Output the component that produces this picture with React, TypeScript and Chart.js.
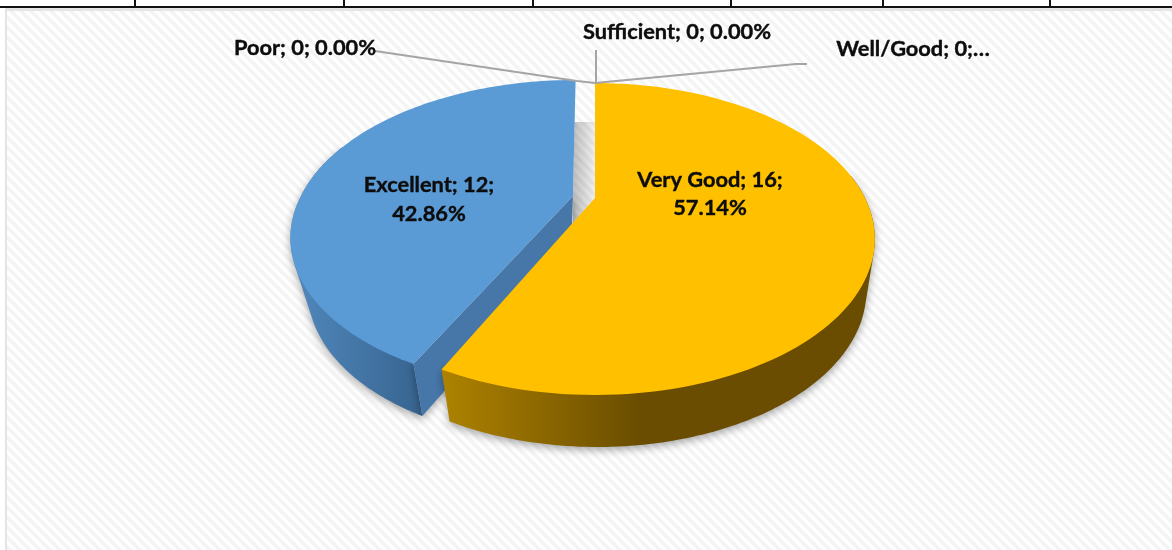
import React, { useEffect, useRef } from "react";
import { Chart, registerables } from "chart.js";

Chart.register(...registerables);

const categories = ["Very Good", "Excellent", "Poor", "Sufficient", "Well/Good"];
const counts = [16, 12, 0, 0, 0];
const sliceColors = ["#FFC000", "#5B9BD5", "#A5A5A5", "#ED7D31", "#4472C4"];
const tableTicks = [135, 344, 533, 731, 883, 1050];

const GOLD = { ax: 595, ay: 198, rx: 270, ry: 145.2, k: -0.2628, skewUp: 0, skewDown: 0, wallS: 0.9617, wallT: 25 };
const BLUE = { ax: 573, ay: 196, rx: 272, ry: 144.8, k: -0.248, skewUp: -0.0224, skewDown: -0.045, wallS: 0.932, wallT: 37 };
const WALL_DEPTH = 52;
const FONT = "bold 21.8px Lato, 'Open Sans', sans-serif";

type Proj = typeof GOLD;
type Pt = [number, number];
const project = (t: number, p: Proj): Pt => {
  const x = Math.sin(t), y = -Math.cos(t), w = 1 + p.k * y;
  const dy = (p.ry * y) / w;
  return [p.ax + (p.rx * x) / w + (dy < 0 ? p.skewUp : p.skewDown) * dy, p.ay + dy];
};
const lower = (pt: Pt, p: Proj): Pt => [pt[0] * p.wallS + p.wallT, pt[1] + WALL_DEPTH];
const arcPoints = (a: number, b: number, p: Proj) => {
  const pts: Pt[] = [];
  const n = 120;
  for (let i = 0; i <= n; i++) pts.push(project(a + ((b - a) * i) / n, p));
  return pts;
};
const hull = (input: Pt[]) => {
  const pts = [...input].sort((a, b) => a[0] - b[0] || a[1] - b[1]);
  const cross = (o: Pt, a: Pt, b: Pt) => (a[0] - o[0]) * (b[1] - o[1]) - (a[1] - o[1]) * (b[0] - o[0]);
  const half = (list: Pt[]) => {
    const out: Pt[] = [];
    for (const q of list) {
      while (out.length >= 2 && cross(out[out.length - 2], out[out.length - 1], q) <= 0) out.pop();
      out.push(q);
    }
    out.pop();
    return out;
  };
  return [...half(pts), ...half([...pts].reverse())];
};
const fillPoly = (ctx: CanvasRenderingContext2D, pts: Pt[], fill: any) => {
  ctx.beginPath();
  pts.forEach((q, i) => (i ? ctx.lineTo(q[0], q[1]) : ctx.moveTo(q[0], q[1])));
  ctx.closePath();
  ctx.fillStyle = fill;
  ctx.fill();
};
const hGrad = (ctx: CanvasRenderingContext2D, x0: number, x1: number, stops: [number, string][]) => {
  const g = ctx.createLinearGradient(x0, 0, x1, 0);
  stops.forEach(([o, c]) => g.addColorStop(o, c));
  return g;
};

const backdrop = {
  id: "backdrop",
  beforeDraw(chart: any) {
    const { ctx, width, height } = chart;
    ctx.save();
    ctx.fillStyle = "#ffffff";
    ctx.fillRect(0, 0, width, height);
    const tile = document.createElement("canvas");
    tile.width = 10;
    tile.height = 10;
    const t = tile.getContext("2d")!;
    t.fillStyle = "#ffffff";
    t.fillRect(0, 0, 10, 10);
    t.strokeStyle = "#f4f4f4";
    t.lineWidth = 3.6;
    [-10, 0, 10].forEach((o) => {
      t.beginPath();
      t.moveTo(o - 2, -2);
      t.lineTo(o + 12, 12);
      t.stroke();
    });
    ctx.fillStyle = ctx.createPattern(tile, "repeat");
    ctx.fillRect(7, 11, width - 7, height - 11);
    ctx.fillStyle = "#e4e4e4";
    ctx.fillRect(5, 8, width - 5, 3);
    ctx.fillRect(5, 8, 2, height - 8);
    ctx.fillStyle = "#111111";
    ctx.fillRect(0, 6, width, 2);
    tableTicks.forEach((x) => ctx.fillRect(x - 1, 0, 2, 7));
    ctx.restore();
  },
};

const pie3d = {
  id: "pie3d",
  beforeDatasetDraw(chart: any) {
    const { ctx } = chart;
    const arcs = chart.getDatasetMeta(0).data;
    const off = Math.PI / 2;
    const gold = arcs[0], blue = arcs[1];
    const g0 = gold.startAngle + off, g1 = gold.endAngle + off;
    const b0 = blue.startAngle + off, b1 = blue.endAngle + off;

    ctx.save();
    // shadow in the gap between the slices
    const gap = ctx.createLinearGradient(574, 0, 595, 0);
    gap.addColorStop(0, "rgba(0,0,0,0.24)");
    gap.addColorStop(1, "rgba(0,0,0,0.06)");
    fillPoly(ctx, [[574.5, 122], [595, 122], [595, 198], [573, 224], [573, 196]], gap);

    // excellent: outer wall
    ctx.shadowColor = "rgba(0,0,0,0.35)";
    ctx.shadowBlur = 8;
    ctx.shadowOffsetY = 3;
    const bTop = arcPoints(b0, Math.PI * 1.62, BLUE);
    fillPoly(ctx, hull([...bTop, ...bTop.map((q) => lower(q, BLUE))]),
      hGrad(ctx, 295, 423, [[0, "#5087BC"], [1, "#37648F"]]));
    // excellent: cut wall
    const corner = project(b0, BLUE);
    const apex: Pt = [BLUE.ax, BLUE.ay];
    fillPoly(ctx, [apex, corner, lower(corner, BLUE), lower(apex, BLUE)], "#4677A8");
    ctx.shadowColor = "transparent";
    // excellent: top
    fillPoly(ctx, [apex, ...arcPoints(b0, b1, BLUE)], sliceColors[1]);

    // very good: outer wall
    ctx.shadowColor = "rgba(0,0,0,0.35)";
    ctx.shadowBlur = 8;
    ctx.shadowOffsetY = 3;
    const gTop = arcPoints(Math.PI * 0.45, g1, GOLD);
    fillPoly(ctx, hull([...gTop, ...gTop.map((q) => lower(q, GOLD))]),
      hGrad(ctx, 444, 640, [[0, "#AD8200"], [1, "#6A4D00"]]));
    ctx.shadowColor = "transparent";
    // very good: top
    fillPoly(ctx, [[GOLD.ax, GOLD.ay], ...arcPoints(g0, g1, GOLD)], sliceColors[0]);
    ctx.restore();
    return false;
  },
  afterDraw(chart: any) {
    const { ctx } = chart;
    const arcs = chart.getDatasetMeta(0).data;
    const total = counts.reduce((a, b) => a + b, 0);
    const pct = (i: number) => ((counts[i] / total) * 100).toFixed(2) + "%";
    const text = (i: number) => `${categories[i]}; ${counts[i]}; ${pct(i)}`;
    const tip = project(arcs[2].endAngle + Math.PI / 2, GOLD);

    ctx.save();
    ctx.strokeStyle = "#A5A5A5";
    ctx.lineWidth = 2;
    const line = (pts: Pt[]) => {
      ctx.beginPath();
      pts.forEach((q, i) => (i ? ctx.lineTo(q[0], q[1]) : ctx.moveTo(q[0], q[1])));
      ctx.stroke();
    };
    line([[375, 51], [577, 81], tip]);
    line([[596, 50], [596, tip[1]]]);
    line([[807, 64], [796, 64], tip]);

    ctx.font = FONT;
    ctx.fillStyle = "#0d0d0d";
    ctx.strokeStyle = "#0d0d0d";
    ctx.lineWidth = 0.4;
    ctx.textBaseline = "middle";
    ctx.textAlign = "center";
    const put = (s: string, x: number, y: number) => {
      ctx.fillText(s, x, y);
      ctx.strokeText(s, x, y);
    };
    put(`${categories[0]}; ${counts[0]};`, 710, 180);
    put(pct(0), 710, 208);
    put(`${categories[1]}; ${counts[1]};`, 429, 185);
    put(pct(1), 429, 214);
    put(text(2), 305, 48);
    put(text(3), 677, 32);
    put(`${categories[4]}; ${counts[4]};…`, 913, 49);
    ctx.restore();
  },
};

export default function App() {
  const ref = useRef<HTMLCanvasElement>(null);
  useEffect(() => {
    document.body.style.margin = "0";
    const chart = new Chart(ref.current!, {
      type: "pie",
      data: {
        labels: categories,
        datasets: [{ data: counts, backgroundColor: sliceColors, borderWidth: 0 }],
      },
      options: {
        responsive: false,
        animation: false,
        plugins: { legend: { display: false }, tooltip: { enabled: false }, title: { display: false } },
      },
      plugins: [backdrop, pie3d],
    } as any);
    return () => chart.destroy();
  }, []);
  return <canvas ref={ref} width={1172} height={550} style={{ display: "block" }} />;
}
